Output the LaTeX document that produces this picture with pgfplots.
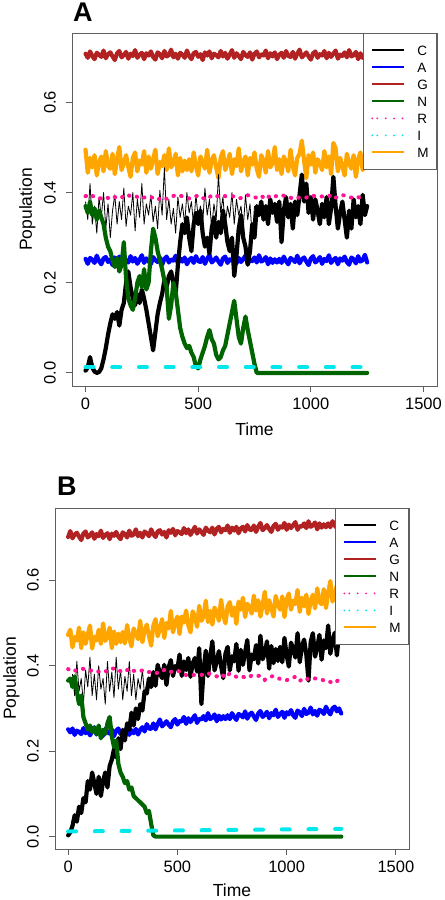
\documentclass[border=0pt]{standalone}
\usepackage{fontspec}
\setmainfont{Liberation Sans}
\usepackage{pgfplots}
\usepackage{pgfplotstable}
\pgfplotsset{compat=1.18}
\definecolor{cG}{RGB}{178,34,34}
\definecolor{cA}{RGB}{0,0,255}
\definecolor{cN}{RGB}{0,100,0}
\definecolor{cR}{RGB}{255,20,147}
\definecolor{cI}{RGB}{0,232,235}
\definecolor{cM}{RGB}{255,165,0}
\definecolor{frm}{RGB}{95,95,95}

\pgfplotstableread{
t G A M R C T N
0 0.708 0.253 0.495 0.392 0.005 0.380 0.370
10 0.699 0.242 0.444 0.389 0.012 0.340 0.355
20 0.713 0.255 0.477 0.396 0.035 0.420 0.380
30 0.703 0.251 0.456 0.387 0.012 0.330 0.350
40 0.696 0.244 0.483 0.390 0.003 0.370 0.365
50 0.710 0.260 0.438 0.392 0.000 0.310 0.340
60 0.706 0.248 0.468 0.386 0.002 0.390 0.360
70 0.701 0.241 0.480 0.392 0.010 0.345 0.345
80 0.715 0.254 0.447 0.390 0.030 0.400 0.330
90 0.698 0.257 0.492 0.394 0.055 0.320 0.300
100 0.707 0.246 0.459 0.388 0.085 0.375 0.280
110 0.711 0.252 0.453 0.385 0.110 0.300 0.270
120 0.702 0.239 0.486 0.393 0.130 0.360 0.250
130 0.694 0.256 0.441 0.391 0.120 0.395 0.235
140 0.709 0.249 0.474 0.387 0.135 0.330 0.255
150 0.714 0.258 0.501 0.395 0.105 0.380 0.225
160 0.700 0.243 0.450 0.389 0.140 0.340 0.240
170 0.705 0.253 0.465 0.390 0.155 0.410 0.290
180 0.712 0.250 0.483 0.396 0.200 0.325 0.210
190 0.697 0.245 0.456 0.388 0.225 0.370 0.165
200 0.708 0.259 0.435 0.392 0.190 0.350 0.150
210 0.703 0.247 0.477 0.386 0.165 0.400 0.140
220 0.716 0.255 0.489 0.393 0.150 0.315 0.165
230 0.699 0.242 0.447 0.391 0.175 0.385 0.200
240 0.706 0.251 0.471 0.387 0.155 0.345 0.215
250 0.710 0.261 0.462 0.395 0.185 0.420 0.190
260 0.696 0.244 0.492 0.389 0.165 0.330 0.230
270 0.709 0.254 0.444 0.386 0.140 0.375 0.185
280 0.704 0.248 0.480 0.392 0.110 0.350 0.200
290 0.713 0.241 0.453 0.394 0.080 0.395 0.270
300 0.701 0.257 0.474 0.388 0.050 0.335 0.320
310 0.695 0.250 0.495 0.391 0.090 0.370 0.300
320 0.711 0.246 0.441 0.384 0.130 0.320 0.270
330 0.707 0.256 0.468 0.393 0.155 0.405 0.250
340 0.698 0.240 0.459 0.390 0.175 0.350 0.230
350 0.714 0.253 0.483 0.394 0.205 0.455 0.205
360 0.702 0.258 0.450 0.386 0.190 0.340 0.190
370 0.705 0.245 0.498 0.392 0.215 0.385 0.120
380 0.717 0.252 0.456 0.390 0.225 0.330 0.150
390 0.700 0.249 0.465 0.388 0.200 0.365 0.200
400 0.708 0.260 0.486 0.395 0.175 0.310 0.180
410 0.697 0.243 0.438 0.389 0.240 0.390 0.140
420 0.710 0.254 0.477 0.393 0.290 0.345 0.100
430 0.706 0.247 0.447 0.386 0.330 0.375 0.080
440 0.699 0.256 0.471 0.391 0.310 0.330 0.065
450 0.715 0.241 0.450 0.396 0.345 0.400 0.055
460 0.703 0.251 0.474 0.387 0.300 0.355 0.060
470 0.696 0.255 0.447 0.392 0.270 0.380 0.045
480 0.709 0.244 0.489 0.389 0.330 0.325 0.035
490 0.712 0.259 0.459 0.386 0.355 0.395 0.015
500 0.701 0.248 0.438 0.394 0.330 0.345 0.010
510 0.707 0.246 0.480 0.390 0.360 0.370 0.030
520 0.694 0.257 0.468 0.388 0.310 0.330 0.045
530 0.711 0.242 0.453 0.393 0.280 0.410 0.060
540 0.704 0.253 0.495 0.385 0.300 0.350 0.080
550 0.713 0.262 0.444 0.392 0.265 0.385 0.095
560 0.698 0.245 0.471 0.394 0.320 0.320 0.075
570 0.708 0.250 0.483 0.388 0.345 0.375 0.065
580 0.705 0.256 0.456 0.391 0.300 0.340 0.040
590 0.700 0.247 0.432 0.390 0.335 0.440 0.030
600 0.714 0.240 0.477 0.395 0.310 0.355 0.035
610 0.702 0.254 0.492 0.387 0.360 0.390 0.050
620 0.710 0.258 0.450 0.392 0.330 0.325 0.060
630 0.697 0.244 0.465 0.389 0.290 0.370 0.085
640 0.706 0.252 0.486 0.393 0.270 0.345 0.110
650 0.716 0.249 0.441 0.386 0.300 0.400 0.135
660 0.699 0.259 0.474 0.391 0.215 0.330 0.160
670 0.709 0.243 0.459 0.393 0.260 0.385 0.120
680 0.703 0.255 0.498 0.387 0.320 0.350 0.080
690 0.696 0.246 0.447 0.395 0.350 0.370 0.065
700 0.712 0.253 0.468 0.389 0.300 0.320 0.100
710 0.705 0.260 0.480 0.388 0.280 0.395 0.125
720 0.701 0.242 0.438 0.394 0.240 0.340 0.095
730 0.711 0.251 0.477 0.386 0.270 0.375 0.070
740 0.695 0.248 0.462 0.392 0.330 0.300 0.045
750 0.708 0.256 0.489 0.396 0.300 0.370 0.020
760 0.713 0.245 0.453 0.388 0.370 nan 0.000
770 0.700 0.261 0.435 0.390 0.350 nan 0
780 0.707 0.247 0.483 0.393 0.380 nan 0
790 0.704 0.250 0.471 0.389 0.340 nan 0
800 0.715 0.257 0.444 0.385 0.370 nan 0
810 0.698 0.241 0.492 0.392 0.330 nan 0
820 0.709 0.254 0.456 0.394 0.385 nan 0
830 0.702 0.244 0.465 0.387 0.355 nan 0
840 0.711 0.252 0.501 0.391 0.375 nan 0
850 0.696 0.245 0.450 0.390 0.335 nan 0
860 0.706 0.253 0.474 0.395 0.380 nan 0
870 0.710 0.244 0.441 0.387 0.290 nan 0
880 0.699 0.258 0.480 0.393 0.360 nan 0
890 0.714 0.248 0.468 0.388 0.390 nan 0
900 0.703 0.241 0.447 0.392 0.345 nan 0
910 0.701 0.255 0.495 0.395 0.375 nan 0
920 0.712 0.251 0.459 0.386 0.320 nan 0
930 0.697 0.246 0.438 0.391 0.380 nan 0
940 0.708 0.260 0.477 0.389 0.350 nan 0
950 0.717 0.243 0.486 0.393 0.395 nan 0
960 0.700 0.252 0.515 0.388 0.440 nan 0
970 0.705 0.256 0.471 0.396 0.380 nan 0
980 0.711 0.247 0.432 0.389 0.420 nan 0
990 0.702 0.239 0.483 0.390 0.355 nan 0
1000 0.695 0.254 0.462 0.394 0.390 nan 0
1010 0.709 0.259 0.489 0.386 0.340 nan 0
1020 0.713 0.245 0.444 0.392 0.385 nan 0
1030 0.699 0.250 0.474 0.387 0.360 nan 0
1040 0.707 0.257 0.465 0.391 0.330 nan 0
1050 0.704 0.242 0.450 0.388 0.375 nan 0
1060 0.714 0.253 0.492 0.392 0.345 nan 0
1070 0.698 0.248 0.456 0.387 0.390 nan 0
1080 0.710 0.261 0.480 0.394 0.330 nan 0
1090 0.701 0.244 0.441 0.389 0.365 nan 0
1100 0.708 0.251 0.510 0.386 0.435 nan 0
1110 0.715 0.255 0.498 0.393 0.370 nan 0
1120 0.697 0.241 0.447 0.391 0.320 nan 0
1130 0.706 0.254 0.477 0.388 0.355 nan 0
1140 0.703 0.249 0.459 0.395 0.380 nan 0
1150 0.711 0.258 0.438 0.387 0.340 nan 0
1160 0.700 0.246 0.486 0.391 0.300 nan 0
1170 0.716 0.240 0.465 0.393 0.360 nan 0
1180 0.702 0.256 0.453 0.389 0.320 nan 0
1190 0.705 0.252 0.483 0.385 0.385 nan 0
1200 0.712 0.243 0.435 0.392 0.345 nan 0
1210 0.696 0.259 0.474 0.395 0.370 nan 0
1220 0.709 0.247 0.489 0.388 0.330 nan 0
1230 0.699 0.250 0.450 0.390 0.395 nan 0
1240 0.707 0.262 0.471 0.394 0.350 nan 0
1250 0.700 0.245 0.462 0.386 0.370 nan 0
}\dataA

\pgfplotstableread{
t G A M R C T N
0 0.701 0.251 0.472 0.392 0.003 nan 0.365
10 0.715 0.244 0.484 0.389 0.010 nan 0.370
20 0.698 0.253 0.443 0.386 0.025 0.380 0.350
30 0.707 0.238 0.467 0.394 0.050 0.330 0.375
40 0.711 0.248 0.459 0.390 0.035 0.410 0.340
50 0.702 0.245 0.489 0.388 0.070 0.340 0.310
60 0.694 0.240 0.441 0.393 0.055 0.370 0.330
70 0.709 0.254 0.478 0.385 0.090 0.310 0.280
80 0.714 0.242 0.451 0.392 0.080 0.390 0.265
90 0.700 0.250 0.473 0.394 0.130 0.350 0.250
100 0.705 0.237 0.494 0.388 0.110 0.420 0.260
110 0.712 0.246 0.440 0.391 0.150 0.330 0.245
120 0.697 0.256 0.468 0.390 0.125 0.380 0.255
130 0.708 0.239 0.459 0.395 0.100 0.320 0.240
140 0.703 0.249 0.484 0.386 0.140 0.400 0.260
150 0.716 0.243 0.451 0.392 0.095 0.345 0.230
160 0.699 0.236 0.499 0.389 0.130 0.370 0.250
170 0.706 0.252 0.458 0.393 0.150 0.310 0.240
180 0.710 0.245 0.467 0.386 0.115 0.410 0.265
190 0.696 0.241 0.489 0.390 0.165 0.340 0.280
200 0.709 0.251 0.441 0.393 0.180 0.385 0.235
210 0.704 0.235 0.480 0.387 0.205 0.325 0.210
220 0.713 0.248 0.451 0.394 0.185 0.420 0.225
230 0.702 0.253 0.475 0.388 0.230 0.345 0.170
240 0.696 0.240 0.455 0.387 0.205 0.390 0.150
250 0.712 0.247 0.479 0.393 0.250 0.320 0.140
260 0.708 0.244 0.452 0.385 0.225 0.375 0.125
270 0.700 0.255 0.495 0.391 0.265 0.340 0.130
280 0.716 0.238 0.465 0.394 0.250 0.410 0.110
290 0.704 0.249 0.445 0.386 0.290 0.330 0.115
300 0.707 0.242 0.487 0.388 0.260 0.380 0.095
310 0.719 0.252 0.476 0.391 0.300 0.320 0.090
320 0.703 0.239 0.462 0.386 0.275 0.370 0.085
330 0.711 0.250 0.505 0.382 0.310 0.345 0.080
340 0.700 0.256 0.455 0.389 0.295 0.390 0.075
350 0.714 0.246 0.483 0.391 0.340 0.330 0.070
360 0.710 0.263 0.496 0.384 0.335 0.360 0.055
370 0.703 0.253 0.470 0.387 0.370 0.350 0.060
380 0.719 0.252 0.447 0.386 0.350 nan 0.030
390 0.708 0.265 0.493 0.391 0.385 nan 0.003
400 0.701 0.251 0.509 0.383 0.353 nan 0
410 0.714 0.264 0.469 0.389 0.402 nan 0
420 0.717 0.274 0.486 0.383 0.382 nan 0
430 0.707 0.258 0.509 0.387 0.371 nan 0
440 0.713 0.263 0.465 0.390 0.402 nan 0
450 0.700 0.270 0.500 0.381 0.355 nan 0
460 0.717 0.262 0.487 0.384 0.396 nan 0
470 0.711 0.256 0.528 0.383 0.413 nan 0
480 0.720 0.270 0.478 0.387 0.376 nan 0
490 0.705 0.275 0.501 0.381 0.399 nan 0
500 0.715 0.262 0.515 0.389 0.392 nan 0
510 0.712 0.271 0.474 0.381 0.426 nan 0
520 0.708 0.269 0.515 0.383 0.376 nan 0
530 0.722 0.280 0.501 0.386 0.410 nan 0
540 0.710 0.264 0.529 0.378 0.390 nan 0
550 0.719 0.277 0.495 0.384 0.418 nan 0
560 0.706 0.268 0.478 0.379 0.374 nan 0
570 0.715 0.276 0.527 0.383 0.405 nan 0
580 0.725 0.284 0.516 0.378 0.418 nan 0
590 0.709 0.266 0.491 0.383 0.386 nan 0
600 0.719 0.276 0.540 0.378 0.441 nan 0
610 0.713 0.274 0.505 0.385 0.310 nan 0
620 0.706 0.282 0.515 0.379 0.391 nan 0
630 0.723 0.272 0.552 0.375 0.435 nan 0
640 0.716 0.289 0.502 0.383 0.376 nan 0
650 0.712 0.275 0.528 0.381 0.420 nan 0
660 0.723 0.278 0.496 0.377 0.457 nan 0
670 0.707 0.286 0.536 0.384 0.389 nan 0
680 0.720 0.270 0.525 0.375 0.410 nan 0
690 0.725 0.283 0.505 0.380 0.434 nan 0
700 0.712 0.274 0.554 0.381 0.399 nan 0
710 0.720 0.282 0.519 0.376 0.371 nan 0
720 0.717 0.275 0.499 0.372 0.428 nan 0
730 0.728 0.284 0.539 0.379 0.444 nan 0
740 0.711 0.275 0.549 0.382 0.389 nan 0
750 0.723 0.289 0.517 0.374 0.422 nan 0
760 0.716 0.280 0.536 0.376 0.410 nan 0
770 0.725 0.273 0.498 0.380 0.451 nan 0
780 0.710 0.287 0.550 0.372 0.388 nan 0
790 0.721 0.284 0.531 0.377 0.437 nan 0
800 0.725 0.279 0.559 0.374 0.402 nan 0
810 0.714 0.293 0.514 0.381 0.431 nan 0
820 0.729 0.276 0.545 0.371 0.460 nan 0
830 0.719 0.286 0.536 0.375 0.389 nan 0
840 0.717 0.290 0.522 0.377 0.426 nan 0
850 0.728 0.281 0.564 0.369 0.415 nan 0
860 0.713 0.273 0.529 0.375 0.448 nan 0
870 0.725 0.288 0.553 0.373 0.405 nan 0
880 0.734 0.294 0.515 0.377 0.470 nan 0
890 0.717 0.280 0.542 0.371 0.415 nan 0
900 0.722 0.285 0.573 0.367 0.428 nan 0
910 0.729 0.292 0.522 0.375 0.457 nan 0
920 0.720 0.277 0.553 0.373 0.393 nan 0
930 0.713 0.289 0.535 0.367 0.446 nan 0
940 0.727 0.284 0.515 0.376 0.406 nan 0
950 0.732 0.297 0.563 0.369 0.439 nan 0
960 0.718 0.280 0.543 0.371 0.411 nan 0
970 0.726 0.287 0.531 0.377 0.444 nan 0
980 0.723 0.292 0.562 0.367 0.408 nan 0
990 0.734 0.278 0.514 0.372 0.465 nan 0
1000 0.718 0.291 0.554 0.366 0.425 nan 0
1010 0.730 0.286 0.569 0.373 0.398 nan 0
1020 0.722 0.296 0.531 0.370 0.454 nan 0
1030 0.729 0.284 0.552 0.366 0.439 nan 0
1040 0.736 0.278 0.544 0.374 0.419 nan 0
1050 0.718 0.295 0.577 0.367 0.476 nan 0
1060 0.727 0.291 0.526 0.364 0.408 nan 0
1070 0.725 0.282 0.559 0.370 0.445 nan 0
1080 0.733 0.299 0.539 0.372 0.461 nan 0
1090 0.722 0.287 0.566 0.365 0.426 nan 0
1100 0.738 0.290 0.521 0.368 0.365 nan 0
1110 0.725 0.302 0.552 0.361 0.455 nan 0
1120 0.728 0.286 0.566 0.370 0.476 nan 0
1130 0.735 0.294 0.534 0.366 0.421 nan 0
1140 0.719 0.283 0.581 0.370 0.443 nan 0
1150 0.733 0.297 0.549 0.362 0.472 nan 0
1160 0.723 0.294 0.544 0.368 0.414 nan 0
1170 0.731 0.287 0.579 0.365 0.459 nan 0
1180 0.724 0.304 0.535 0.362 0.441 nan 0
1190 0.733 0.293 0.570 0.370 0.494 nan 0
1200 0.724 0.286 0.598 0.362 0.428 nan 0
1210 0.738 0.300 0.550 0.367 0.458 nan 0
1220 0.728 0.304 0.567 0.359 0.477 nan 0
1230 0.722 0.293 0.588 0.363 0.424 nan 0
1240 0.736 0.300 0.563 0.368 0.478 nan 0
1250 0.732 0.288 0.545 0.359 0.461 nan 0
}\dataB

\pgfplotsset{
  thk/.style={line width=4.2bp, line join=round, line cap=round},
  rpanel/.style={
    scale only axis, anchor=south west,
    xmin=-60, xmax=1560,
    xtick={0,500,1000,1500}, ytick={0,0.2,0.4,0.6},
    tick align=outside, xtick pos=left, ytick pos=left,
    major tick length=6bp,
    axis line style={frm, line width=0.9bp},
    every tick/.style={frm, line width=0.9bp},
    /pgf/number format/assume math mode=true,
    /pgf/number format/use period,
    /pgf/number format/1000 sep={},
    tick label style={font=\fontsize{16.5bp}{18bp}\selectfont, black},
    xticklabel style={anchor=north, inner sep=0pt},
    xticklabel shift=6bp,
    yticklabel shift=10bp,
    yticklabel style={rotate=90, anchor=south, inner sep=0pt,
      /pgf/number format/fixed, /pgf/number format/fixed zerofill,
      /pgf/number format/precision=1},
    label style={font=\fontsize{17.5bp}{20bp}\selectfont},
    xlabel={Time}, ylabel={Population},
    legend cell align=left,
    legend image code/.code={\path (0bp,0bp) -- (5bp,0bp);\draw[##1] (5bp,0bp) -- (32bp,0bp);},
    legend style={at={(1,1)}, anchor=north east, draw=frm, line width=0.9bp,
      fill=white, inner xsep=8bp, inner ysep=8.5bp, row sep=0bp, column sep=12bp,
      font=\fontsize{13.5bp}{15bp}\selectfont,
      nodes={inner sep=0pt, text height=13.3bp, text depth=3.7bp}},
  },
}

\newcommand{\drawseries}[2]{%
  \addplot[cG, thk, forget plot] table[x=t,y=G]{#1};
  \addplot[cM, thk, forget plot] table[x=t,y=M]{#1};
  \addplot[cA, thk, forget plot] table[x=t,y=A]{#1};
  \addplot[black, line width=0.8bp, line join=round, forget plot] table[x=t,y=T]{#1};
  \addplot[black, thk, forget plot] table[x=t,y=C]{#1};
  \addplot[cN, thk, forget plot] table[x=t,y=N]{#1};
  \addplot[cR, line width=4bp, line cap=round, dash pattern=on 0.5bp off 7.5bp, each nth point=2, forget plot] table[x=t,y=R]{#1};
  #2
  \addlegendimage{black, line width=2bp}\addlegendentry{C}
  \addlegendimage{cA, line width=2bp}\addlegendentry{A}
  \addlegendimage{cG, line width=2bp}\addlegendentry{G}
  \addlegendimage{cN, line width=2bp}\addlegendentry{N}
  \addlegendimage{cR, line width=2bp, line cap=round, dash pattern=on 0bp off 8.4bp}\addlegendentry{R}
  \addlegendimage{cI, line width=2bp, line cap=round, dash pattern=on 0bp off 8.4bp}\addlegendentry{I}
  \addlegendimage{cM, line width=2bp}\addlegendentry{M}
}

\begin{document}
\begin{tikzpicture}[x=1bp,y=1bp]
\useasboundingbox (0,0) rectangle (445,900);
\begin{axis}[rpanel, at={(72bp,514bp)}, width=365bp, height=353bp,
  ymin=-0.029, ymax=0.754,
  xlabel style={at={(axis description cs:0.5,-0.105)}, anchor=north, inner sep=0pt},
  ylabel style={at={(axis description cs:-0.145,0.5)}, anchor=north, inner sep=0pt}]
\drawseries{\dataA}{\addplot[cI, line width=4bp, line cap=round, dash pattern=on 8bp off 18.7bp, forget plot] coordinates {(0,0.0126) (1250,0.0126)};}
\end{axis}
\node[font=\bfseries\fontsize{27bp}{30bp}\selectfont, anchor=base west, inner sep=0pt] at (73,878) {A};
\begin{axis}[rpanel, at={(55bp,51bp)}, width=354bp, height=341bp,
  ymin=-0.029, ymax=0.769,
  xlabel style={at={(axis description cs:0.5,-0.102)}, anchor=north, inner sep=0pt},
  ylabel style={at={(axis description cs:-0.147,0.5)}, anchor=north, inner sep=0pt}]
\drawseries{\dataB}{\addplot[cI, line width=4bp, line cap=round, dash pattern=on 8bp off 18.7bp, forget plot] coordinates {(0,0.012) (1250,0.018)};}
\end{axis}
\node[font=\bfseries\fontsize{27bp}{30bp}\selectfont, anchor=base west, inner sep=0pt] at (57,404) {B};
\end{tikzpicture}
\end{document}
